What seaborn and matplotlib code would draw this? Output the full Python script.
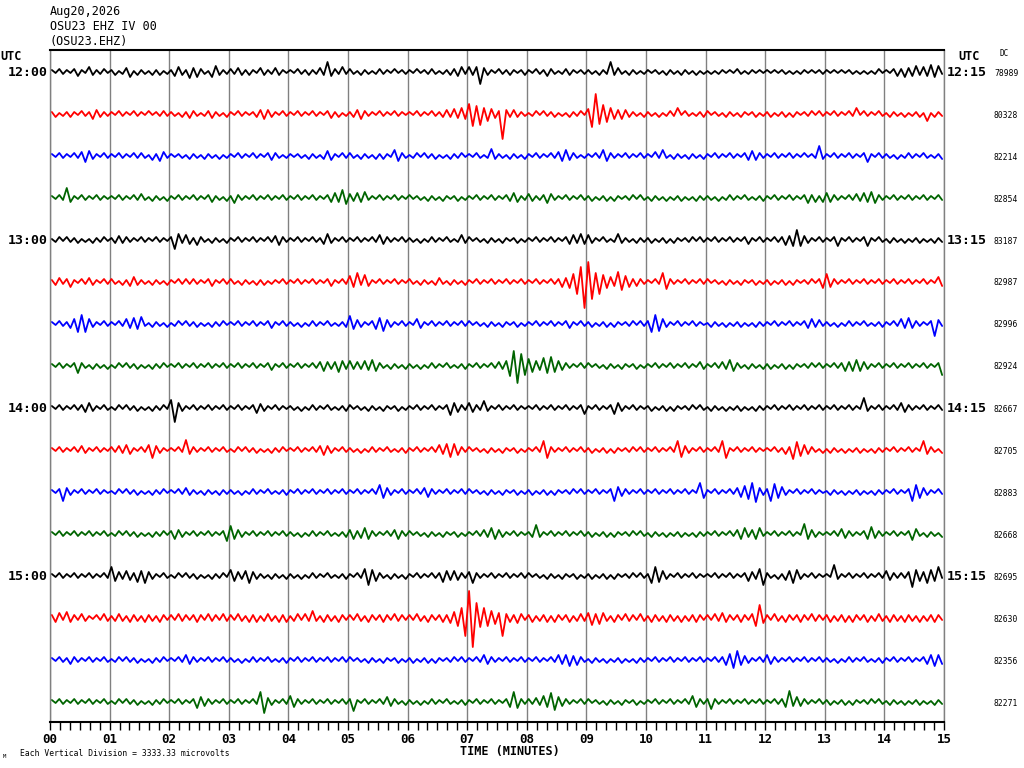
import pandas as pd
import seaborn as sns
import matplotlib.pyplot as plt

# Амплитуды трасс (пиксели, основание 36), 16 значений на минуту
h12 = [
    "2132213421532231 2312451322132312 2453264532156322 3243232143224321 2132232243a43252 3213221232213122 2131223212233452 535c432132232123 2132243212332122 221322a342132212 2122132213221312 1212212132122121 2121221212212122 2121212212121231 2134354463547562",
    "2312232132254322 2132213221312232 2213243212342213 2132212345432132 2132213221342312 2345322132213221 2132213223435465 ac8b67543p434322 1231322312132231 5dka986545432213 2213123261321223 3122132213212312 2312231321223132 2132213261322132 1322131223171322",
    "2132213246532132 2132213232142542 2122132213221312 2132213221343212 2122132213542132 3213221323216532 1231322312132231 2132127322132213 2132213245643212 2132653221322132 2142621322132213 2132213221345432 21322132213122a3 2132213221362132 2213123221321223",
    "2132a42132213221 2132213242132213 2132213221342213 2532213221322132 2132213221345486 4354622132213221 3122132213212312 2132213221335422 4322354221322132 2312231321223132 1322131223121322 2213123221321223 2132213221353424 5432213243546532 2132213221322132",
]
h13 = [
    "1231322312132231 2343322132213221 3963542532132213 2132213221324532 2132213224632132 2132213254322132 2213123221321253 3122132213212312 2132213221345364 5321321263221322 2312231321223132 2132213221342132 21323546a6432132 2136213221362132 1322131223121322",
    "2342352132432132 3213245322132213 2132323221342132 3213221323122132 2132213221342132 6593742132213221 3213221342132213 2132213221322132 2132213235468cfq kh9c7654a8653432 2132973221322132 3122132213212312 2312231321223136 8532213221322132 2132213221322154",
    "2132245898532132 2132546572132213 1231322312132231 2132213221342132 2213123221321223 8543213567432132 2154213221322132 3122132213212312 2132213221342132 2312231321223132 3897532132213221 1322131223121322 2132213221345342 2213123221321223 2132546432213c42",
    "2132213732132213 1231322312132231 2132213221322132 2132213221342132 2132213245434653 5343546532132213 2213123221321223 21322132435afhc9 7654879654322132 3122132213212312 2132213221322143 2132436532132213 2312231321223132 2132354565432132 2132213221322139",
]
h14 = [
    "2132213234532132 1231322312132231 8e53213221322132 2132213543213221 2213123221321223 3122132213212312 2132213221375432 5432732132213221 2132213221322136 2132213653213221 2312231321223132 1322131223121322 2132213221322132 2132213221a32132 2132543221322132",
    "2132213243213221 3243542132584321 2132a43221322132 1231322312132231 2132213245432132 2213123221321223 2132213254676532 3122132213212312 2132983221322132 2312231321223132 2132213297432132 2132982132213221 2132243986543213 1322131223121322 2132213221943213",
    "2139432132213221 1231322312132231 2132432213221322 2213123221321223 2132213221322132 2132213276432132 2132453221322132 3122132213212312 2312231321223132 2132213954322132 2132213221322196 2132213245679a43 3986532132213221 1322131223121322 2132213976432132",
    "2132213221322132 1231322312132231 3543213221322137 8543213221322132 2213123221321223 4534653221324532 3122132213212312 2132436543213221 2393213221322132 2312231321223132 1322131223121322 2132213245634562 2132213221a54321 2132543221357432 2132213652132213",
]
h15 = [
    "2132213221322132 9543543657432132 1231322312132231 6543574322132213 2213123221321223 2132796532132213 2132213236545432 4732213221322132 3122132213212312 2312231321223132 2796532132213221 2132213221354379 3213245763213221 21b3213221322132 5432324b65476592",
    "3452643243213243 2343243324332432 3243323432433243 3243243423432434 2342437324332432 3243243234324332 32432432343568ai rtf9a8765i443542 3423342432342343 5746532432433243 2433243324233432 32435432343248d5 3243243234324332 3423342432342343 2433243324233432",
    "2132243221322132 1231322312132231 2132543221322132 2213123221321223 2132213221322132 3122132213212312 2312231321223132 2132543221322132 2132213254564532 1322131223121322 2132213221322132 2132356895432132 5432213221322132 2213123221321223 2132213221345654",
    "2132213221322132 1231322312132231 2132213654322132 21322132ab432132 6532213221322132 3921322132543213 2213123221321223 213221322135a632 3243659854322132 3122132213212312 2132213221326532 3732213221322132 213235b454322132 2312231321223132 1322131223121322",
]

hour_left = ['12:00', '13:00', '14:00', '15:00']
hour_right = ['12:15', '13:15', '14:15', '15:15']
dc_values = ['78989', '80328', '82214', '82854', '83187', '82987', '82996', '82924',
             '82667', '82705', '82883', '82668', '82695', '82630', '82356', '82271']
minutes = list(range(16))
trace_colors = ['black', 'red', 'blue', '#006400']

ROW_PX = 42

rows = h12 + h13 + h14 + h15
records = []
for r, code in enumerate(rows):
    amps = [int(c, 36) for c in code.replace(' ', '')]
    n = len(amps)
    for i, a in enumerate(amps):
        sign = 1 if i % 2 == 0 else -1
        records.append({'minute': (i + 0.5) * 15 / n, 'y': r - sign * a / ROW_PX, 'row': r})
df = pd.DataFrame(records)

sns.set_theme(style='white')
plt.rcParams['font.family'] = ['DejaVu Sans Mono']
plt.rcParams['text.color'] = 'black'
plt.rcParams['xtick.color'] = 'black'
plt.rcParams['axes.labelcolor'] = 'black'

fig = plt.figure(figsize=(10.24, 7.68), dpi=100)
ax = fig.add_axes([50 / 1024, 46 / 768, 894 / 1024, 672 / 768])

palette = {r: trace_colors[r % 4] for r in range(len(rows))}
sns.lineplot(data=df, x='minute', y='y', hue='row', palette=palette, legend=False,
             estimator=None, sort=False, linewidth=1.3, ax=ax)

ax.set_xlim(0, 15)
ax.set_ylim(15 + 20 / ROW_PX, -22 / ROW_PX)
ax.set_yticks([])
ax.set_xticks(minutes)
ax.set_xticklabels([f'{m:02d}' for m in minutes], fontsize=9, fontweight='bold')
ax.set_xticks([m / 6 for m in range(91)], minor=True)
ax.tick_params(axis='x', which='both', direction='out', length=6, width=1,
               color='black', labelcolor='black', bottom=True, pad=2)
ax.grid(axis='x', which='major', color='#808080', linewidth=1)
ax.set_xlabel('')
ax.set_ylabel('')
for side in ['top', 'bottom']:
    ax.spines[side].set_color('black')
    ax.spines[side].set_linewidth(1.5)
for side in ['left', 'right']:
    ax.spines[side].set_color('#808080')
    ax.spines[side].set_linewidth(1)


def px(x, y):
    return x / 1024, 1 - y / 768


fig.text(*px(50, 12), 'Aug20,2026', fontsize=8.5, va='center', ha='left')
fig.text(*px(50, 27), 'OSU23 EHZ IV 00', fontsize=8.5, va='center', ha='left')
fig.text(*px(50, 42), '(OSU23.EHZ)', fontsize=8.5, va='center', ha='left')
fig.text(*px(0, 57), 'UTC', fontsize=8.5, fontweight='bold', va='center', ha='left')
fig.text(*px(958, 57), 'UTC', fontsize=8.5, fontweight='bold', va='center', ha='left')
fig.text(*px(1000, 54), 'DC', fontsize=5.5, va='center', ha='left')

for k in range(4):
    y = 72 + 4 * ROW_PX * k
    fig.text(*px(48, y), hour_left[k], fontsize=9.5, fontweight='bold', va='center', ha='right')
    fig.text(*px(947, y), hour_right[k], fontsize=9.5, fontweight='bold', va='center', ha='left')

for r, val in enumerate(dc_values):
    fig.text(*px(994, 73 + ROW_PX * r), val, fontsize=5.8, va='center', ha='left')

fig.text(*px(510, 752), 'TIME (MINUTES)', fontsize=8.5, fontweight='bold', va='center', ha='center')
fig.text(*px(20, 754), 'Each Vertical Division = 3333.33 microvolts', fontsize=5.8,
         va='center', ha='left')
fig.text(*px(3, 757), 'M', fontsize=4, va='center', ha='left')

plt.savefig('out.png', dpi=100)
